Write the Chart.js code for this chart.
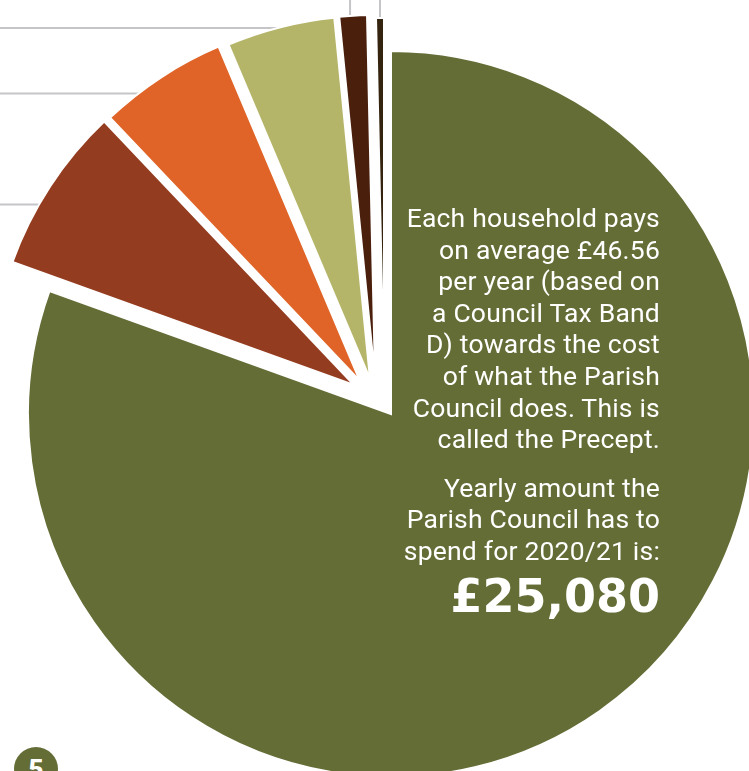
<!DOCTYPE html>
<html>
<head>
<meta charset="utf-8">
<script src="https://cdn.jsdelivr.net/npm/chart.js@4.4.1/dist/chart.umd.min.js"></script>
<style>
  html, body { margin: 0; padding: 0; background: #fff; }
  #wrap { position: relative; width: 749px; height: 771px; overflow: hidden; }
  #pie { position: absolute; left: 0; top: 0; }
  .note {
    position: absolute; right: 89px; top: 202px;
    color: #fff; font-family: Roboto, "Liberation Sans", sans-serif;
    font-size: 26.5px; letter-spacing: 0.2px; line-height: 31.6px; text-align: right;
  }
  .note p { margin: 0; }
  .note p + p { margin-top: 17px; }
  .note .total {
    font-family: "DejaVu Sans", sans-serif; font-weight: bold; letter-spacing: 0;
    font-size: 46px; line-height: 46px; margin-top: 6px;
  }
  .badge {
    position: absolute; left: 14px; top: 747px; width: 44px; height: 44px;
    border-radius: 50%; background: #646d36; color: #fff;
    font-family: Roboto, sans-serif; font-weight: 900; font-size: 26px;
    text-align: center; line-height: 44px;
  }
</style>
</head>
<body>
<div id="wrap">
  <canvas id="pie" width="749" height="771"></canvas>
  <div class="note">
    <p>Each household pays<br>on average £46.56<br>per year (based on<br>a Council Tax Band<br>D) towards the cost<br>of what the Parish<br>Council does. This is<br>called the Precept.</p>
    <p>Yearly amount the<br>Parish Council has to<br>spend for 2020/21 is:</p>
    <div class="total">£25,080</div>
  </div>
  <div class="badge">5</div>
</div>
<script>
  // share of the yearly spend, clockwise from 12 o'clock (%)
  const categories = ['Main share', 'Second', 'Third', 'Fourth', 'Fifth', 'Sixth'];
  const shares = [80.5, 7.42, 5.71, 4.8, 1.22, 0.35];

  const sliceColors = ['#646d36', '#943c1f', '#e06427', '#b5b56a', '#4a1f0c', '#34240f'];
  // how far each slice is pulled out of the pie, px
  const sliceShift = [[0, 0], [-37, -29], [-31, -33], [-21, -35], [-16, -36], [-7, -33]];
  // leader lines: where on the slice's arc they attach, and which edge they run to
  const leaderAt = [null, 0.375, 0.285, 0.47, 0.39, 0.5];
  const leaderTo = [null, 'left', 'left', 'left', 'top', 'top'];

  const explode = {
    id: 'explode',
    afterDatasetsUpdate(chart) {
      chart.getDatasetMeta(0).data.forEach((arc, i) => {
        arc.x += sliceShift[i][0];
        arc.y += sliceShift[i][1];
      });
    },
    beforeDatasetsDraw(chart) {
      const ctx = chart.ctx;
      ctx.save();
      ctx.strokeStyle = '#c5c5c9';
      ctx.lineWidth = 2;
      chart.getDatasetMeta(0).data.forEach((arc, i) => {
        if (leaderAt[i] == null) return;
        const a = arc.startAngle + leaderAt[i] * (arc.endAngle - arc.startAngle);
        const px = arc.x + Math.cos(a) * arc.outerRadius;
        const py = arc.y + Math.sin(a) * arc.outerRadius;
        ctx.beginPath();
        if (leaderTo[i] === 'left') {
          ctx.moveTo(0, py);
          ctx.lineTo(px + 12, py);
        } else {
          ctx.moveTo(px, 0);
          ctx.lineTo(px, py + 12);
        }
        ctx.stroke();
      });
      ctx.restore();
    }
  };

  new Chart(document.getElementById('pie'), {
    type: 'pie',
    data: {
      labels: categories,
      datasets: [{
        data: shares,
        backgroundColor: sliceColors,
        borderColor: '#ffffff',
        borderWidth: 2,
        borderJoinStyle: 'miter',
        hoverOffset: 0,
        radius: 363,
        clip: false
      }]
    },
    options: {
      responsive: false,
      animation: false,
      events: [],
      rotation: 0,
      layout: { padding: { left: 33, right: 0, top: 57, bottom: 0 } },
      plugins: {
        legend: { display: false },
        tooltip: { enabled: false }
      }
    },
    plugins: [explode]
  });
</script>
</body>
</html>
